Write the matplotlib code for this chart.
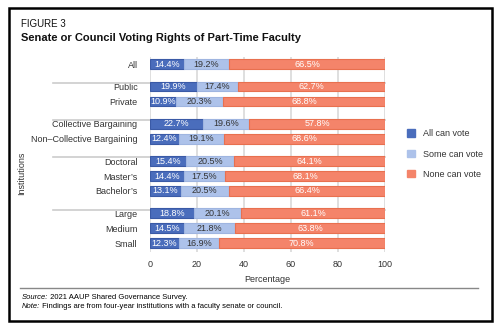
import matplotlib.pyplot as plt
from matplotlib.patches import Rectangle, Patch
from matplotlib.lines import Line2D

# part-time faculty voting rights, share of institutions (%)
labels = ["All", "Public", "Private", "Collective Bargaining",
          "Non\u2013Collective Bargaining", "Doctoral", "Master\u2019s",
          "Bachelor\u2019s", "Large", "Medium", "Small"]
group_sizes = [1, 2, 2, 3, 3]
all_vote = [14.4, 19.9, 10.9, 22.7, 12.4, 15.4, 14.4, 13.1, 18.8, 14.5, 12.3]
some_vote = [19.2, 17.4, 20.3, 19.6, 19.1, 20.5, 17.5, 20.5, 20.1, 21.8, 16.9]
none_vote = [66.5, 62.7, 68.8, 57.8, 68.6, 64.1, 68.1, 66.4, 61.1, 63.8, 70.8]
series_names = ["All can vote", "Some can vote", "None can vote"]

plt.rcParams['font.family'] = ['Liberation Sans', 'DejaVu Sans']

colors = ["#4a6dbc", "#adc2ea", "#f4846a"]
edges = ["#3a5aa6", "#9fb5e0", "#e8704f"]
txt_colors = ["white", "#333333", "white"]

# row positions: 1 unit inside a group, extra half unit between groups
ypos = []
seps = []
y = 0.0
for gi, n in enumerate(group_sizes):
    if gi > 0:
        seps.append(y + 0.25)
        y += 0.5
    for k in range(n):
        ypos.append(y)
        y += 1.0

fig = plt.figure(figsize=(5, 3.3), dpi=100)
ax = fig.add_axes([0.30, 0.236, 0.47, 0.591])

left = [0.0] * len(labels)
for vals, c, ec, tc, name in zip([all_vote, some_vote, none_vote], colors,
                                 edges, txt_colors, series_names):
    ax.barh(ypos, vals, left=left, height=0.65, color=c, edgecolor=ec,
            linewidth=0.8, label=name, zorder=3)
    for yy, l, v in zip(ypos, left, vals):
        ax.text(l + v / 2, yy, f"{v:.1f}%", ha='center', va='center',
                fontsize=6.5, color=tc, zorder=4)
    left = [l + v for l, v in zip(left, vals)]

for s in seps:
    ax.axhline(s, xmin=-0.413, xmax=1.0, color="#cccccc", lw=1.2,
               clip_on=False, zorder=1)

ax.set_xlim(0, 100)
ax.set_ylim(ypos[-1] + 0.6, -0.47)
ax.set_xticks([0, 20, 40, 60, 80, 100])
ax.set_yticks(ypos)
ax.set_yticklabels(labels)
ax.tick_params(length=0, labelsize=6.5, colors="#333333")
ax.tick_params(axis='y', pad=9)
ax.tick_params(axis='x', pad=6)
ax.xaxis.grid(True, color="#d9d9d9", lw=1.2, zorder=0)
ax.set_axisbelow(True)
for sp in ax.spines.values():
    sp.set_visible(False)
ax.set_xlabel("Percentage", fontsize=6.5, color="#333333", labelpad=4)

fig.text(0.044, 0.476, "Institutions", rotation=90, fontsize=6.5,
         color="#333333", ha='center', va='center')

handles = [Patch(facecolor=c, edgecolor=c) for c in colors]
fig.legend(handles, series_names, loc='upper left',
           bbox_to_anchor=(0.804, 0.622), frameon=False, fontsize=6.5,
           handlelength=0.9, handleheight=0.9, handletextpad=0.9,
           labelspacing=1.25, borderpad=0, labelcolor="#333333")

# titles and footer
fig.text(0.042, 0.927, "FIGURE 3", fontsize=7, va='center', color="#111111")
fig.text(0.042, 0.885, "Senate or Council Voting Rights of Part-Time Faculty",
         fontsize=8, fontweight='bold', va='center', color="#111111")
fig.add_artist(Line2D([0.04, 0.956], [0.128, 0.128], color="#888888", lw=1.0))

src = fig.text(0.044, 0.097, "Source:", fontsize=5.5, style='italic',
               va='center')
fig.add_artist(plt.Annotation(" 2021 AAUP Shared Governance Survey.",
                              xy=(1, 0.5), xycoords=src, va='center',
                              fontsize=5.5))
note = fig.text(0.044, 0.072, "Note:", fontsize=5.5, style='italic',
                va='center')
fig.add_artist(plt.Annotation(" Findings are from four-year institutions with "
                              "a faculty senate or council.",
                              xy=(1, 0.5), xycoords=note, va='center',
                              fontsize=5.5))

fig.add_artist(Rectangle((0.017, 0.028), 0.966, 0.948, fill=False,
                         edgecolor="black", lw=1.8,
                         transform=fig.transFigure))

fig.savefig("out.png", dpi=100)
